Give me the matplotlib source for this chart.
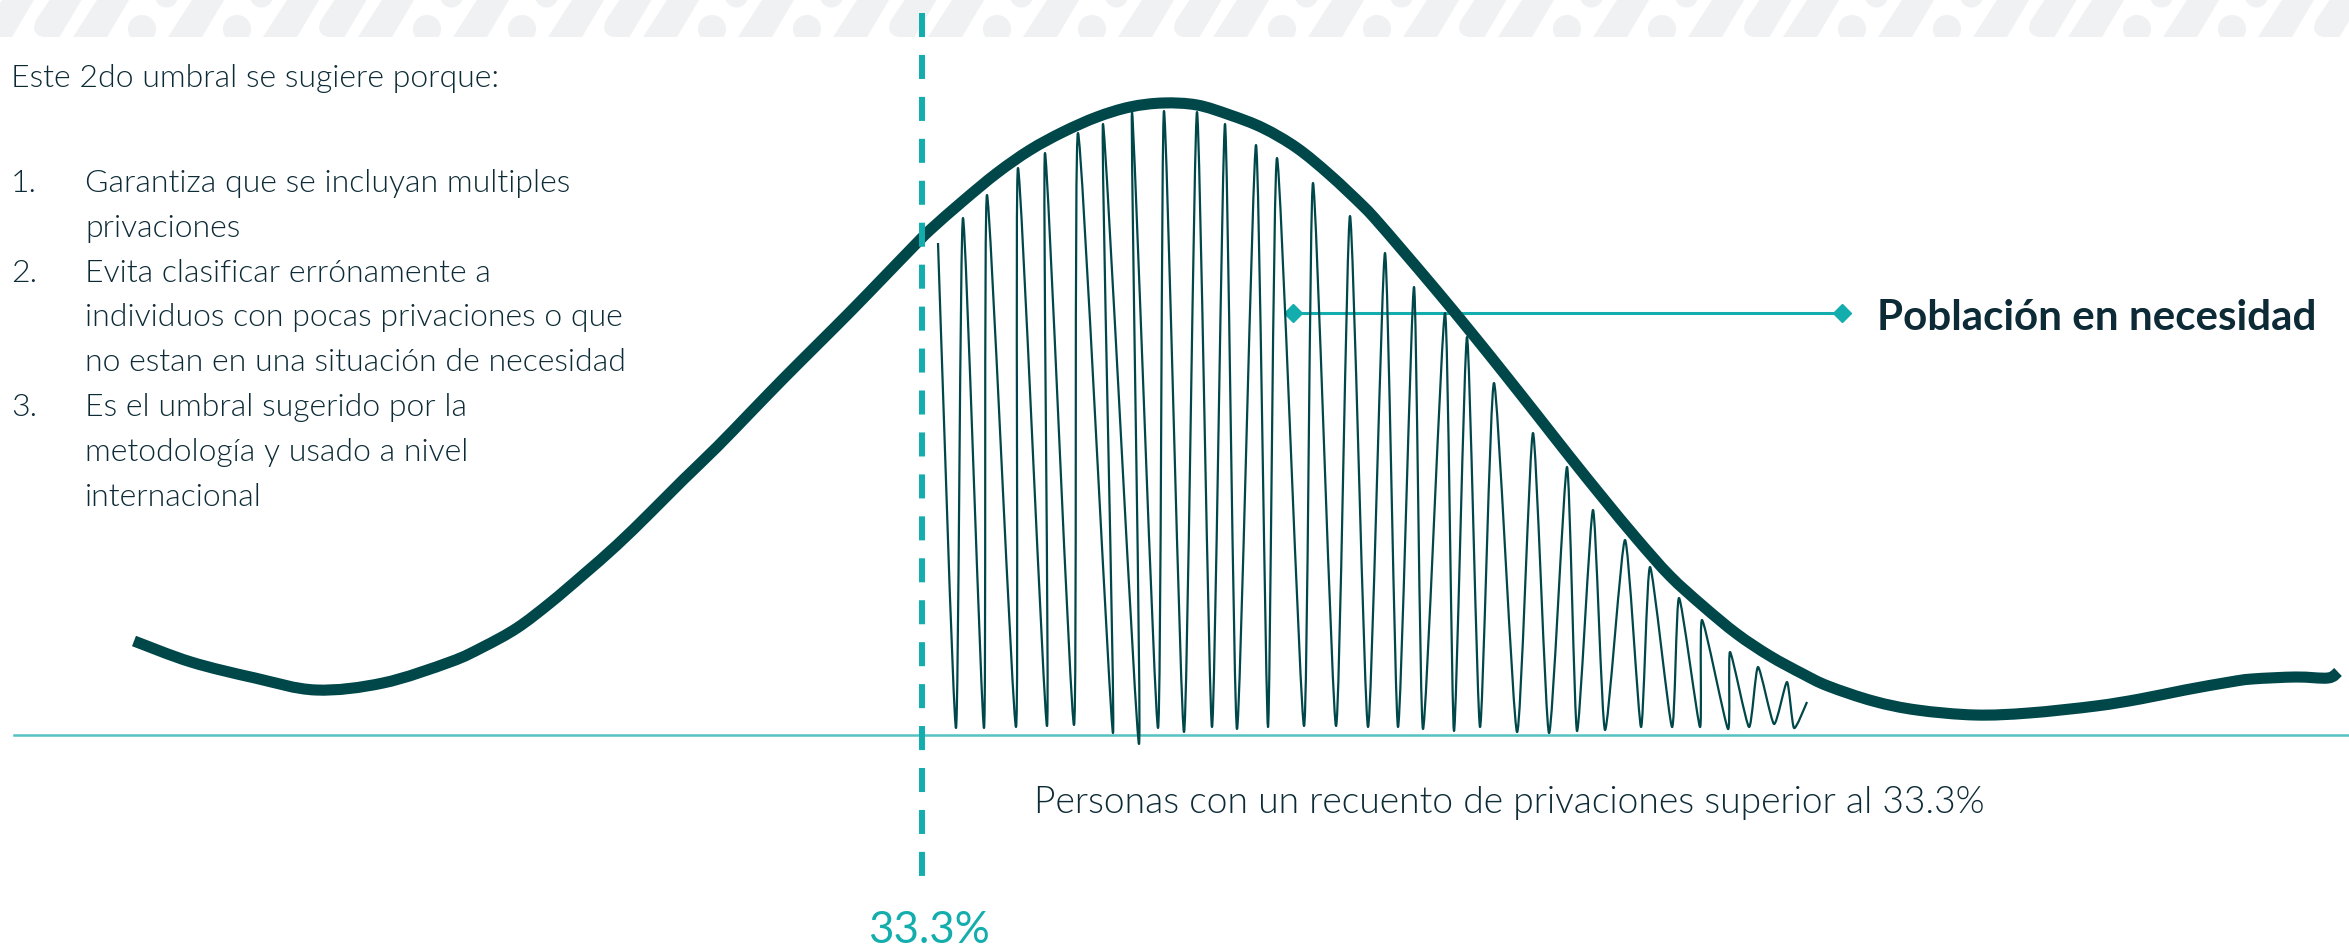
import matplotlib.pyplot as plt
from matplotlib.patches import Polygon, Circle, Rectangle, PathPatch
from matplotlib.path import Path

plt.rcParams['font.family'] = ['Lato', 'DejaVu Sans']
plt.rcParams['lines.scale_dashes'] = False

# colores
DARK = '#00474A'
TEXT = '#0D2B36'
TEAL = '#13ADAD'
BASE = '#55C3C3'
BAND = '#F0F1F3'

# curva principal (coordenadas de la imagen, y hacia abajo)
curve_x = [134, 191, 255, 316, 383, 450, 483, 517, 550, 583, 617, 650, 683, 717, 750,
           783, 817, 850, 883, 913, 930, 963, 997, 1030, 1063, 1097, 1130, 1163, 1197,
           1230, 1263, 1297, 1330, 1363, 1378, 1403, 1437, 1470, 1503, 1537, 1570, 1603,
           1637, 1670, 1703, 1737, 1770, 1803, 1828, 1873, 1917, 1975, 2029, 2096, 2140,
           2185, 2230, 2252, 2296, 2328, 2338]
curve_y = [641, 662, 678, 690, 683, 662, 647, 628, 603, 575, 545, 513, 480, 447, 413,
           379, 345, 312, 278, 247, 230, 201, 173, 150, 132, 117, 107, 103, 105,
           115, 128, 148, 175, 206, 222, 251, 291, 331, 372, 415, 457, 498,
           539, 576, 606, 634, 656, 674, 686, 701, 710, 715, 713, 706, 699,
           690, 682, 679, 677, 678, 672]

# oscilacion: picos y valles
wave_start = (938, 243)
wave_end = (1807, 702)
peak_x = [963, 987, 1018, 1045, 1078, 1103, 1132, 1164, 1197, 1225, 1256, 1277, 1313, 1350,
          1385, 1414, 1445, 1467, 1494, 1533, 1567, 1593, 1625, 1650, 1679, 1702, 1730, 1758, 1787]
peak_y = [218, 195, 168, 153, 133, 124, 112, 111, 112, 124, 145, 158, 183, 216,
          253, 287, 313, 337, 383, 433, 467, 510, 540, 567, 598, 620, 652, 667, 682]
trough_x = [956, 984, 1016, 1047, 1074, 1113, 1139, 1158, 1184, 1212, 1237, 1268, 1304, 1336, 1368,
            1398, 1423, 1454, 1480, 1517, 1549, 1577, 1605, 1641, 1672, 1700, 1728, 1749, 1774, 1794]
trough_y = [728, 728, 727, 726, 725, 733, 744, 728, 732, 727, 729, 727, 726, 726, 727,
            727, 729, 731, 727, 732, 733, 731, 730, 727, 727, 727, 729, 727, 724, 728]

threshold_x = 921.5
baseline_y = 735
annot_x = [1293, 1842]
annot_y = 313

header = 'Este 2do umbral se sugiere porque:'
items = [('1.', ['Garantiza que se incluyan multiples', 'privaciones']),
         ('2.', ['Evita clasificar errónamente a',
                 'individuos con pocas privaciones o que',
                 'no estan en una situación de necesidad']),
         ('3.', ['Es el umbral sugerido por la', 'metodología y usado a nivel',
                 'internacional'])]


def smooth_path(xs, ys, k=1.0):
    # trazo bezier que pasa por los puntos (catmull-rom)
    pts = list(zip(xs, ys))
    verts = [pts[0]]
    codes = [Path.MOVETO]
    n = len(pts)
    for i in range(n - 1):
        p0 = pts[max(i - 1, 0)]
        p1 = pts[i]
        p2 = pts[i + 1]
        p3 = pts[min(i + 2, n - 1)]
        c1 = (p1[0] + k * (p2[0] - p0[0]) / 6, p1[1] + k * (p2[1] - p0[1]) / 6)
        c2 = (p2[0] - k * (p3[0] - p1[0]) / 6, p2[1] - k * (p3[1] - p1[1]) / 6)
        verts += [c1, c2, p2]
        codes += [Path.CURVE4] * 3
    return Path(verts, codes)


W, H = 2349, 947
fig = plt.figure(figsize=(W / 100, H / 100), dpi=100)
ax = fig.add_axes([0, 0, 1, 1])
ax.set_xlim(0, W)
ax.set_ylim(H, 0)
ax.axis('off')

# banda decorativa superior
band_h = 37
clip = Rectangle((0, 0), W, band_h, transform=ax.transData)
kinds = ['P', 'R', 'P', 'D', 'P', 'D']
for k in range(52):
    b = -22 + 47.5 * k
    kind = kinds[k % 6]
    if kind == 'P':
        shp = Polygon([(b, band_h), (b + 34, band_h), (b + 56, 0), (b + 24, 0)],
                      closed=True, color=BAND, lw=0)
        ax.add_patch(shp)
        shp.set_clip_path(clip)
    elif kind == 'R':
        shp = Polygon([(b + 24, 0), (b + 56, 0), (b + 34, band_h), (b + 18, band_h),
                       (b + 13, 35.5), (b + 9.5, 32), (b + 8.5, 27), (b + 10, 21)],
                      closed=True, color=BAND, lw=0)
        ax.add_patch(shp)
        shp.set_clip_path(clip)
    else:
        for c in [Circle((b + 21.5, 29), 14, color=BAND, lw=0),
                  Circle((b + 46, -4), 11.5, color=BAND, lw=0)]:
            ax.add_patch(c)
            c.set_clip_path(clip)

# linea base
ax.plot([14, W], [baseline_y, baseline_y], color=BASE, lw=1.8, zorder=1)

# linea de anotacion
ax.plot(annot_x, [annot_y, annot_y], color=TEAL, lw=2.2, marker='D', markersize=9,
        zorder=2)

# oscilacion
wx = [wave_start[0]]
wy = [wave_start[1]]
for i in range(len(peak_x)):
    wx += [trough_x[i], peak_x[i]]
    wy += [trough_y[i], peak_y[i]]
wx += [trough_x[-1], wave_end[0]]
wy += [trough_y[-1], wave_end[1]]
ax.add_patch(PathPatch(smooth_path(wx, wy, 0.6), fill=False, edgecolor=DARK, lw=1.6,
                       joinstyle='round', zorder=3))

# curva principal
ax.add_patch(PathPatch(smooth_path(curve_x, curve_y), fill=False, edgecolor=DARK, lw=8,
                       capstyle='butt', joinstyle='round', zorder=4))

# umbral discontinuo
ax.plot([threshold_x, threshold_x], [13, 877], color=TEAL, lw=4.3,
        linestyle=(0, (17.3, 12.9)), dash_capstyle='butt', zorder=5)

# textos
body = 23
ax.text(11, 87, header, fontsize=body, color=TEXT, fontweight=300, va='baseline')
y = 192
for num, lines in items:
    ax.text(11, y, num, fontsize=body, color=TEXT, fontweight=300, va='baseline')
    for ln in lines:
        ax.text(85, y, ln, fontsize=body, color=TEXT, fontweight=300, va='baseline')
        y += 44.8

ax.text(1034, 813, 'Personas con un recuento de privaciones superior al 33.3%',
        fontsize=26.8, color=TEXT, fontweight=300, va='baseline')
ax.text(929, 943, '33.3%', fontsize=31.5, color=TEAL, ha='center', va='baseline')
ax.text(1877, 330, 'Población en necesidad', fontsize=30.3, color=TEXT,
        fontweight='bold', va='baseline')

fig.savefig('out.png', dpi=100)
